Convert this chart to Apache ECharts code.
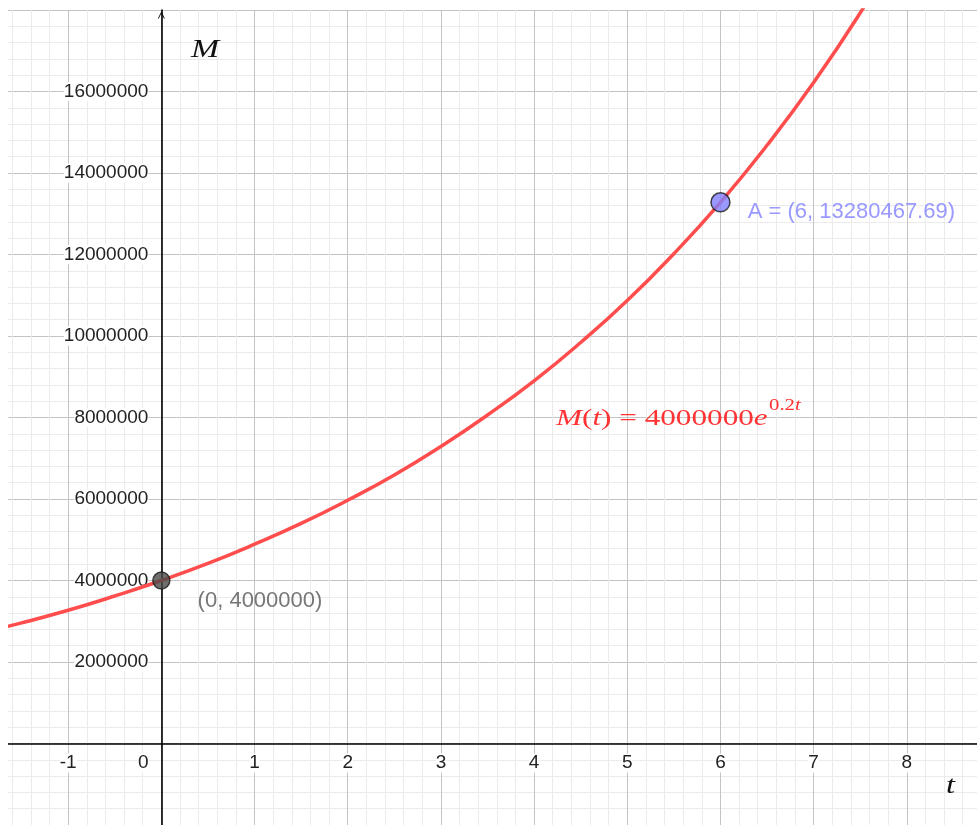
<!DOCTYPE html>
<html lang="en">
<head>
<meta charset="UTF-8">
<title>M(t)</title>
<script src="https://cdn.jsdelivr.net/npm/echarts@6/dist/echarts.min.js"></script>
<style>html,body{margin:0;padding:0;background:#fff;}</style>
</head>
<body>
<div id="chart" style="width:977px;height:825px;"></div>
<script>
// curve values
var tValues = [-2, -1.5, -1, -0.5, 0, 0.5, 1, 1.5, 2, 2.5, 3, 3.5, 4, 4.5, 5, 5.5, 6, 6.5, 7, 7.5, 8];
var mValues = [2680000, 2960000, 3270000, 3620000, 4000000, 4420000, 4890000, 5400000, 5970000, 6590000,
               7290000, 8060000, 8900000, 9840000, 10870000, 12020000, 13280000, 14680000, 16220000, 17930000, 19810000];
// marked points
var pointT = [0, 6];
var pointM = [4000000, 13280467.69];
var pointLabels = ['(0, 4000000)', 'A = (6, 13280467.69)'];
// tick labels shown
var xTicks = [-1, 0, 1, 2, 3, 4, 5, 6, 7, 8];
var yTicks = [2000000, 4000000, 6000000, 8000000, 10000000, 12000000, 14000000, 16000000];

var curve = [];
for (var i = 0; i < tValues.length; i++) curve.push([tValues[i], mValues[i]]);

var labelFont = 'Liberation Sans, Arial, sans-serif';
var serif = 'Liberation Serif, Times New Roman, serif';
var chevron = 'path://M0,12 L6,0 L12,12 L10.4,12 L6,3.2 L1.6,12 Z';

// grid box (reaches past the canvas so that the axis ranges stay on whole ticks)
var gridLeft = -25, gridRight = -23, gridTop = 10, gridBottom = 0;
var W = 977, H = 825;
var xMin = -2, xMax = 9, yMin = -2000000, yMax = 18000000;
// move the axes from the grid edges onto the zero lines
var yAxisOffset = -((W - gridLeft - gridRight) * (0 - xMin) / (xMax - xMin));
var xAxisOffset = -((H - gridTop - gridBottom) * (0 - yMin) / (yMax - yMin));

var chart = echarts.init(document.getElementById('chart'));
var option = {
    animation: false,
    backgroundColor: '#fff',
    grid: { left: gridLeft, right: gridRight, top: gridTop, bottom: gridBottom, containLabel: false, outerBoundsMode: 'none' },
    xAxis: {
        type: 'value', min: xMin, max: xMax, interval: 1, position: 'bottom', offset: xAxisOffset,
        axisLine: { show: true, onZero: false, lineStyle: { color: '#000', width: 1.6 },
                    symbol: ['none', chevron], symbolSize: [10, 7] },
        axisTick: { show: false },
        minorTick: { show: false, splitNumber: 5 },
        splitLine: { show: true, lineStyle: { color: '#c4c4c4', width: 1 } },
        minorSplitLine: { show: true, lineStyle: { color: '#ebebeb', width: 1 } },
        axisLabel: {
            margin: 10, fontSize: 19, fontFamily: labelFont, color: '#222',
            formatter: function (v) {
                if (xTicks.indexOf(v) < 0) return '';
                if (v === 0) return '{z|0}{g|}';
                return '{n|' + v + '}';
            },
            rich: {
                n: { fontSize: 19, fontFamily: labelFont, color: '#222', backgroundColor: '#fff' },
                z: { fontSize: 19, fontFamily: labelFont, color: '#222', backgroundColor: '#fff' },
                g: { width: 36 }
            }
        }
    },
    yAxis: {
        type: 'value', min: yMin, max: yMax, interval: 2000000, position: 'left', offset: yAxisOffset,
        axisLine: { show: true, onZero: false, lineStyle: { color: '#000', width: 1.6 },
                    symbol: ['none', chevron], symbolSize: [10, 7], symbolOffset: [0, -5] },
        axisTick: { show: false },
        minorTick: { show: false, splitNumber: 5 },
        splitLine: { show: true, lineStyle: { color: '#c4c4c4', width: 1 } },
        minorSplitLine: { show: true, lineStyle: { color: '#ebebeb', width: 1 } },
        axisLabel: {
            margin: 13, fontSize: 19, fontFamily: labelFont, color: '#222',
            backgroundColor: '#fff',
            formatter: function (v) {
                return yTicks.indexOf(v) >= 0 ? String(v) : '';
            }
        }
    },
    series: [
        {
            type: 'line', data: curve, smooth: true, showSymbol: false, clip: true,
            lineStyle: { color: '#ff4d4d', width: 3.5 }, z: 3
        },
        {
            type: 'scatter', z: 5,
            data: [
                {
                    value: [pointT[0], pointM[0]], symbolSize: 17,
                    itemStyle: { color: '#4a4a4a', borderColor: '#1a1a1a', borderWidth: 1.5 },
                    label: { show: true, formatter: pointLabels[0], position: 'right', distance: 5,
                             offset: [22, 20], fontSize: 22, fontFamily: labelFont, color: '#555' }
                },
                {
                    value: [pointT[1], pointM[1]], symbolSize: 19,
                    itemStyle: { color: '#8080ff', borderColor: '#1a1a1a', borderWidth: 1.5 },
                    label: { show: true, formatter: pointLabels[1], position: 'right', distance: 5,
                             offset: [12, 10], fontSize: 22, fontFamily: labelFont, color: '#8080ff' }
                }
            ]
        }
    ],
    graphic: [
        { type: 'rect', z: 100, shape: { x: 0, y: 0, width: 8, height: 825 }, style: { fill: '#fff' } },
        { type: 'text', z: 100, x: 191, y: 50, scaleX: 1.35,
          style: { text: 'M', fontSize: 25, fontFamily: serif, fontStyle: 'italic', fill: '#111',
                   align: 'left', verticalAlign: 'middle' } },
        { type: 'text', z: 100, x: 946, y: 786, scaleX: 1.3,
          style: { text: 't', fontSize: 25, fontFamily: serif, fontStyle: 'italic', fill: '#111',
                   align: 'left', verticalAlign: 'middle' } },
        { type: 'text', z: 100, x: 556, y: 419, scaleX: 1.3,
          style: {
              text: '{i|M}{n|(}{i|t}{n|) = 4000000}{i|e}',
              fontSize: 24, fontFamily: serif, fill: '#ff3333', align: 'left', verticalAlign: 'middle',
              rich: {
                  i: { fontSize: 24, fontFamily: serif, fontStyle: 'italic', fill: '#ff3333' },
                  n: { fontSize: 24, fontFamily: serif, fill: '#ff3333' }
              }
          } },
        { type: 'text', z: 100, x: 769, y: 406, scaleX: 1.3,
          style: {
              text: '{n|0.2}{i|t}',
              fontSize: 16, fontFamily: serif, fill: '#ff3333', align: 'left', verticalAlign: 'middle',
              rich: {
                  i: { fontSize: 16, fontFamily: serif, fontStyle: 'italic', fill: '#ff3333' },
                  n: { fontSize: 16, fontFamily: serif, fill: '#ff3333' }
              }
          } }
    ]
};
chart.setOption(option);
</script>
</body>
</html>
